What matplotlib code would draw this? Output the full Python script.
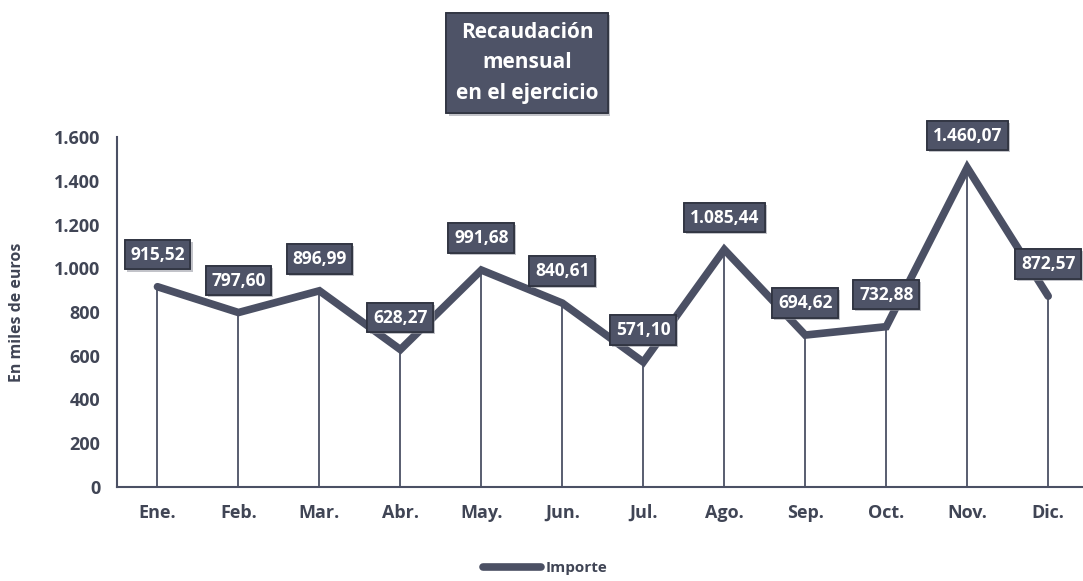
import matplotlib.pyplot as plt
import matplotlib.patheffects as pe
from matplotlib.lines import Line2D

plt.rcParams["font.family"] = ["Open Sans", "DejaVu Sans"]

months = ["Ene.", "Feb.", "Mar.", "Abr.", "May.", "Jun.",
          "Jul.", "Ago.", "Sep.", "Oct.", "Nov.", "Dic."]
importe = [915.52, 797.60, 896.99, 628.27, 991.68, 840.61,
           571.10, 1085.44, 694.62, 732.88, 1460.07, 872.57]
labels = ["915,52", "797,60", "896,99", "628,27", "991,68", "840,61",
          "571,10", "1.085,44", "694,62", "732,88", "1.460,07", "872,57"]
yticks = [0, 200, 400, 600, 800, 1000, 1200, 1400, 1600]
ytick_labels = ["0", "200", "400", "600", "800", "1.000", "1.200", "1.400", "1.600"]

line_c = "#4b5064"
text_c = "#404555"
box_c = "#4e5367"

fig = plt.figure(figsize=(10.83, 5.81), dpi=100)
ax = fig.add_axes([117 / 1083, 1 - 487 / 581, (1083 - 117) / 1083, 350 / 581])

x = list(range(len(months)))
ax.vlines(x, 0, importe, color=line_c, lw=1.3)
ax.plot(x, importe, color=line_c, lw=5.5, solid_capstyle="round",
        solid_joinstyle="miter")

box = dict(boxstyle="square,pad=0.33", fc=box_c, ec="#2f3340", lw=1.2)
for xi, v, lab in zip(x, importe, labels):
    t = ax.annotate(lab, (xi, v), xytext=(0, 32), textcoords="offset pixels",
                    ha="center", va="center", color="white", fontsize=12.5,
                    fontweight="bold", bbox=box, zorder=5)
    t.get_bbox_patch().set_path_effects(
        [pe.withSimplePatchShadow(offset=(1.5, -1.5), shadow_rgbFace="#9a9ca5", alpha=0.6),
         pe.Normal()])

ax.set_xlim(-0.5, 11.43)
ax.set_ylim(0, 1600)
ax.set_xticks(x)
ax.set_xticklabels(months)
ax.set_yticks(yticks)
ax.set_yticklabels(ytick_labels)
ax.tick_params(length=0, labelsize=13, labelcolor=text_c, pad=12)
for lbl in ax.get_xticklabels() + ax.get_yticklabels():
    lbl.set_fontweight("bold")
for s in ["top", "right"]:
    ax.spines[s].set_visible(False)
for s in ["left", "bottom"]:
    ax.spines[s].set_color(line_c)
    ax.spines[s].set_linewidth(1.5)
ax.set_ylabel("En miles de euros", fontsize=11.5, fontweight="bold", color=text_c)
ax.yaxis.set_label_coords(-92 / 966, 0.5)

title = fig.text(527 / 1083, 1 - 63 / 581, "Recaudación\nmensual\nen el ejercicio",
                 ha="center", va="center", color="white", fontsize=15,
                 fontweight="bold", linespacing=1.6,
                 bbox=dict(boxstyle="square,pad=0.45", fc=box_c, ec="#2f3340", lw=1.2))
title.get_bbox_patch().set_path_effects(
    [pe.withSimplePatchShadow(offset=(2, -2), shadow_rgbFace="#9a9ca5", alpha=0.6),
     pe.Normal()])

handle = Line2D([], [], color=line_c, lw=5.5, solid_capstyle="round")
fig.legend([handle], ["Importe"], loc="center", bbox_to_anchor=(545 / 1083, 1 - 568 / 581),
           frameon=False, handlelength=3.8, handletextpad=0.3,
           prop=dict(weight="bold", size=11), labelcolor=text_c)

fig.savefig("out.png", dpi=100)
